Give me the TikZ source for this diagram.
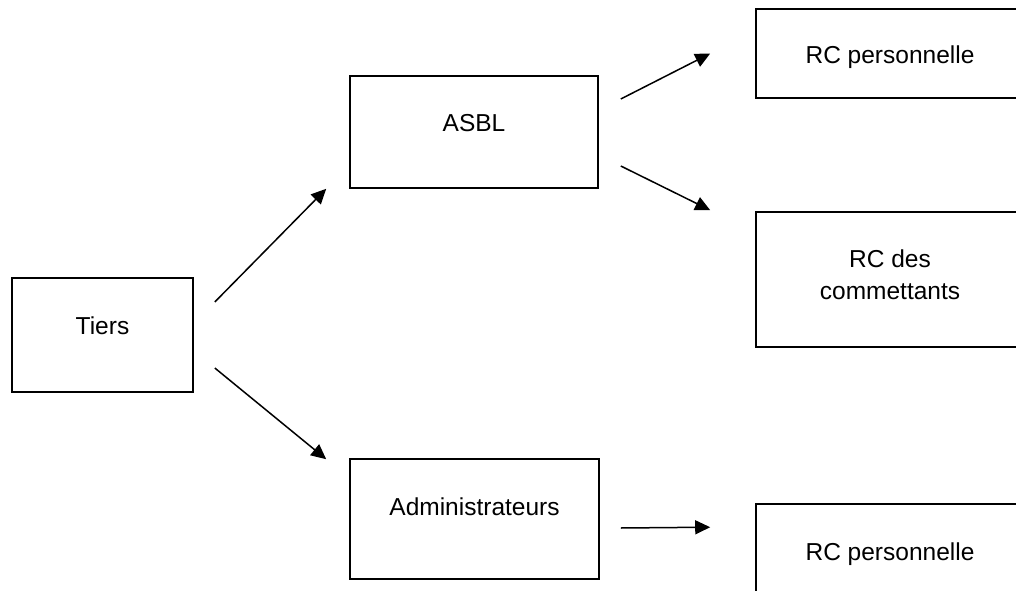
\documentclass[tikz,border=0pt]{standalone}
\usepackage{fontspec}
\setmainfont{Liberation Sans}
\usetikzlibrary{arrows.meta}

\begin{document}
\begin{tikzpicture}[x = 1pt, y = 1pt,
    box/.style = {draw, line width=1.6pt, inner sep=0pt},
    txt/.style = {anchor=north, inner sep=0pt, align=center, font=\fontsize{24.5}{32}\selectfont},
    arr/.style = {line width=1.5pt, -{Triangle[length=15pt, width=14pt]}}]
    \useasboundingbox (0,0) rectangle (1016,590);
    \node[box, minimum width=181, minimum height=114] (tiers) at (102.5,255) {};
    \node[box, minimum width=248, minimum height=112] (asbl) at (474,458) {};
    \node[box, minimum width=249, minimum height=120] (admin) at (474.5,71) {};
    \node[box, minimum width=268, minimum height=89] (rcpers) at (890,536.5) {};
    \node[box, minimum width=268, minimum height=135] (rccomm) at (890,310.5) {};
    \node[box, minimum width=268, minimum height=118] (rcadmin) at (890,27) {};
    \node[txt] (tiers-t) at ([yshift=-39pt]tiers.north) {Tiers};
    \node[txt] (asbl-t) at ([yshift=-39pt]asbl.north) {ASBL};
    \node[txt] (admin-t) at ([yshift=-39pt]admin.north) {Administrateurs};
    \node[txt] (rcpers-t) at ([yshift=-37pt]rcpers.north) {RC personnelle};
    \node[txt] (rccomm-t) at ([yshift=-38pt]rccomm.north) {RC des\\commettants};
    \node[txt] (rcadmin-t) at ([yshift=-39pt]rcadmin.north) {RC personnelle};
    \draw[arr] ([shift={(21,33)}]tiers.east) -- ([shift={(-23,0)}]asbl.south west);
    \draw[arr] ([shift={(21,-33)}]tiers.east) -- ([shift={(-23,-1)}]admin.north west);
    \draw[arr] ([shift={(22,33)}]asbl.east) -- ([shift={(-45,0)}]rcpers.west);
    \draw[arr] ([shift={(22,-34)}]asbl.east) -- ([shift={(-45,1)}]rccomm.north west);
    \draw[arr] ([shift={(21,-9)}]admin.east) -- ([shift={(-45,-24)}]rcadmin.north west);
\end{tikzpicture}
\end{document}
